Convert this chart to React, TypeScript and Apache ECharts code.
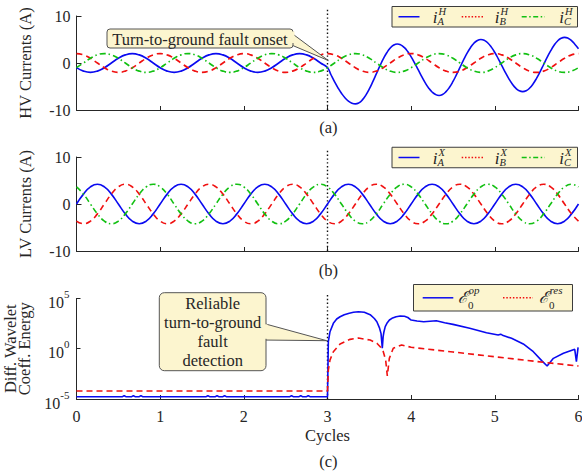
import React, { useEffect, useRef } from "react";
import * as echarts from "echarts";

// ---------------- data ----------------
const faultCycle = 3;
const xMin = 0;
const xMax = 6;

// (a) HV phase currents (A): pre-fault samples every 1/12 cycle (t = 0..3)
const hvAPre = [
  -1, -1.73, -2, -1.73, -1, 0, 1, 1.73, 2, 1.73, 1, 0,
  -1, -1.73, -2, -1.73, -1, 0, 1, 1.73, 2, 1.73, 1, 0,
  -1, -1.73, -2, -1.73, -1, 0, 1, 1.73, 2, 1.73, 1, 0,
  -1,
];
// (a) faulted phase A after onset: samples every 1/24 cycle (t = 3..6)
const hvAPost = [
  -1, -2.5, -3.95, -5.28, -6.44, -7.4, -8.11, -8.55, -8.7,
  -8.48, -7.85, -6.84, -5.52, -3.98, -2.33, -0.68, 0.86, 2.17, 3.19, 3.82, 4.04,
  3.85, 3.31, 2.44, 1.31, -0.01, -1.43, -2.85, -4.17, -5.3, -6.17, -6.71, -6.9,
  -6.7, -6.1, -5.16, -3.93, -2.49, -0.95, 0.59, 2.03, 3.26, 4.2, 4.8, 5.0,
  4.81, 4.26, 3.38, 2.23, 0.89, -0.55, -1.99, -3.33, -4.47, -5.36, -5.91, -6.1,
  -5.9, -5.33, -4.41, -3.21, -1.82, -0.32, 1.18, 2.57, 3.77, 4.69, 5.26, 5.46,
  5.27, 4.75, 3.95, 3.05,
];
// samples every 1/12 cycle (t = 0..6)
const hvB = [
  2, 1.73, 1, 0, -1, -1.73, -2, -1.73, -1, 0, 1, 1.73,
  2, 1.73, 1, 0, -1, -1.73, -2, -1.73, -1, 0, 1, 1.73,
  2, 1.73, 1, 0, -1, -1.73, -2, -1.73, -1, 0, 1, 1.73,
  2, 1.73, 1, 0, -1, -1.73, -2, -1.73, -1, 0, 1, 1.73,
  2, 1.73, 1, 0, -1, -1.73, -2, -1.73, -1, 0, 1, 1.73,
  2, 1.73, 1, 0, -1, -1.73, -2, -1.73, -1, 0, 1, 1.73,
  2,
];
const hvC = [
  -1, 0, 1, 1.73, 2, 1.73, 1, 0, -1, -1.73, -2, -1.73,
  -1, 0, 1, 1.73, 2, 1.73, 1, 0, -1, -1.73, -2, -1.73,
  -1, 0, 1, 1.73, 2, 1.73, 1, 0, -1, -1.73, -2, -1.73,
  -1, 0, 1, 1.73, 2, 1.73, 1, 0, -1, -1.73, -2, -1.73,
  -1, 0, 1, 1.73, 2, 1.73, 1, 0, -1, -1.73, -2, -1.73,
  -1, 0, 1, 1.73, 2, 1.73, 1, 0, -1, -1.73, -2, -1.73,
  -1,
];

// (b) LV phase currents (A), samples every 1/12 cycle (t = 0..6)
const lvA = [
  0, 2.1, 3.64, 4.2, 3.64, 2.1, 0, -2.1, -3.64, -4.2, -3.64, -2.1,
  0, 2.1, 3.64, 4.2, 3.64, 2.1, 0, -2.1, -3.64, -4.2, -3.64, -2.1,
  0, 2.1, 3.64, 4.2, 3.64, 2.1, 0, -2.1, -3.64, -4.2, -3.64, -2.1,
  0, 2.1, 3.64, 4.2, 3.64, 2.1, 0, -2.1, -3.64, -4.2, -3.64, -2.1,
  0, 2.1, 3.64, 4.2, 3.64, 2.1, 0, -2.1, -3.64, -4.2, -3.64, -2.1,
  0, 2.1, 3.64, 4.2, 3.64, 2.1, 0, -2.1, -3.64, -4.2, -3.64, -2.1,
  0,
];
const lvB = [
  -3.64, -4.2, -3.64, -2.1, 0, 2.1, 3.64, 4.2, 3.64, 2.1, 0, -2.1,
  -3.64, -4.2, -3.64, -2.1, 0, 2.1, 3.64, 4.2, 3.64, 2.1, 0, -2.1,
  -3.64, -4.2, -3.64, -2.1, 0, 2.1, 3.64, 4.2, 3.64, 2.1, 0, -2.1,
  -3.64, -4.2, -3.64, -2.1, 0, 2.1, 3.64, 4.2, 3.64, 2.1, 0, -2.1,
  -3.64, -4.2, -3.64, -2.1, 0, 2.1, 3.64, 4.2, 3.64, 2.1, 0, -2.1,
  -3.64, -4.2, -3.64, -2.1, 0, 2.1, 3.64, 4.2, 3.64, 2.1, 0, -2.1,
  -3.64,
];
const lvC = [
  3.64, 2.1, 0, -2.1, -3.64, -4.2, -3.64, -2.1, 0, 2.1, 3.64, 4.2,
  3.64, 2.1, 0, -2.1, -3.64, -4.2, -3.64, -2.1, 0, 2.1, 3.64, 4.2,
  3.64, 2.1, 0, -2.1, -3.64, -4.2, -3.64, -2.1, 0, 2.1, 3.64, 4.2,
  3.64, 2.1, 0, -2.1, -3.64, -4.2, -3.64, -2.1, 0, 2.1, 3.64, 4.2,
  3.64, 2.1, 0, -2.1, -3.64, -4.2, -3.64, -2.1, 0, 2.1, 3.64, 4.2,
  3.64, 2.1, 0, -2.1, -3.64, -4.2, -3.64, -2.1, 0, 2.1, 3.64, 4.2,
  3.64,
];

// (c) differential wavelet coefficient energies
const opT = [
  0, 0.55, 0.57, 0.59, 0.66, 0.68, 0.7, 0.75, 0.77, 0.79,
  1.55, 1.57, 1.59, 1.66, 1.68, 1.7, 1.75, 1.77, 1.79,
  2.55, 2.57, 2.59, 2.66, 2.68, 2.7, 2.75, 2.77, 2.79,
  3.0, 3.01, 3.03, 3.07, 3.11, 3.15, 3.2, 3.26, 3.31, 3.37, 3.44, 3.51, 3.56,
  3.59, 3.62, 3.64, 3.655, 3.665, 3.675, 3.69, 3.71, 3.74, 3.77, 3.82, 3.87,
  3.92, 3.96, 4.0, 4.07, 4.15, 4.3, 4.4, 4.5, 4.7, 4.9, 5.04, 5.07, 5.1, 5.2,
  5.34, 5.46, 5.56, 5.625, 5.7, 5.82, 5.955, 5.975, 5.995,
];
const opE = [
  1.7e-5, 1.7e-5, 2.2e-5, 1.7e-5, 1.7e-5, 2.2e-5, 1.7e-5, 1.7e-5, 2.2e-5, 1.7e-5,
  1.7e-5, 2.2e-5, 1.7e-5, 1.7e-5, 2.2e-5, 1.7e-5, 1.7e-5, 2.2e-5, 1.7e-5,
  1.7e-5, 2.2e-5, 1.7e-5, 1.7e-5, 2.2e-5, 1.7e-5, 1.7e-5, 2.2e-5, 1.7e-5,
  1.7e-5, 5, 49, 331, 891, 1510, 2400, 3390, 4170, 4790, 4170, 2400, 1000,
  479, 126, 31.6, 1.1, 15.8, 49, 158, 331, 708, 1050, 1510, 1780,
  1660, 1260, 708, 560, 479, 603, 380, 263, 107, 39, 23, 28, 20, 10.7,
  2.95, 0.5, 0.065, 0.019, 0.11, 0.35, 0.87, 0.051, 1.38,
];
const resT = [
  0, 3.0, 3.01, 3.03, 3.07, 3.15, 3.27, 3.37, 3.51, 3.59, 3.63, 3.667,
  3.695, 3.715, 3.739, 3.786, 3.886, 4.0, 4.5, 5.0, 5.62, 6.0,
];
const resE = [
  6.3e-5, 6.3e-5, 7.6e-3, 0.076, 0.5, 2.95, 8.5, 11.5, 7.2, 3.5, 1.58, 0.5,
  0.076, 1.95e-3, 0.11, 1.1, 2.34, 1.38, 0.47, 0.158, 0.041, 0.019,
];

// ---------------- styling ----------------
const FONT = "'Liberation Serif', 'DejaVu Serif', serif";
const AX = "#262626";
const BLUE = "#0a0af0";
const RED = "#f01010";
const GREEN = "#12c012";
const YEL = "#fcf5cf";
const BOX = "#3c3c3c";
const PLOT_LEFT = 76.5;
const PLOT_RIGHT = 3.5;

const DASH = [6, 4];
const DASHDOT = [6, 3, 1.5, 3];

function xAxisFor(i: number) {
  const base: any = {
    type: "value",
    gridIndex: i,
    min: xMin,
    max: xMax,
    interval: 1,
    axisLine: { show: true, onZero: false, lineStyle: { color: AX, width: 1 } },
    axisTick: { show: true, inside: true, length: 4, lineStyle: { color: AX } },
    axisLabel: { show: i === 2, fontSize: 16, fontFamily: FONT, color: AX, margin: 9 },
    splitLine: { show: false },
  };
  if (i === 2) {
    base.name = "Cycles";
    base.nameLocation = "middle";
    base.nameGap = 28;
    base.nameTextStyle = { fontSize: 16.5, fontFamily: FONT, color: AX };
  }
  return base;
}

function linYAxis(i: number, name: string) {
  return {
    type: "value",
    gridIndex: i,
    min: -10,
    max: 10,
    interval: 10,
    axisLine: { show: true, onZero: false, lineStyle: { color: AX, width: 1 } },
    axisTick: { show: true, inside: true, length: 5, lineStyle: { color: AX } },
    axisLabel: { fontSize: 16, fontFamily: FONT, color: AX, margin: 6 },
    splitLine: { show: false },
    name,
    nameLocation: "middle",
    nameGap: 43,
    nameRotate: 90,
    nameTextStyle: { fontSize: 16.5, fontFamily: FONT, color: AX },
  };
}

function vline(i: number, y0: number, y1: number) {
  return {
    type: "line",
    xAxisIndex: i,
    yAxisIndex: i,
    data: [
      [faultCycle, y0],
      [faultCycle, y1],
    ],
    showSymbol: false,
    symbol: "none",
    clip: false,
    silent: true,
    lineStyle: { color: "#111", width: 1.4, type: [1.4, 2.4] },
    z: 1,
  };
}

function wave(i: number, data: number[][], color: string, type: any) {
  return {
    type: "line",
    xAxisIndex: i,
    yAxisIndex: i,
    data,
    showSymbol: false,
    symbol: "none",
    smooth: 0.5,
    lineStyle: { color, width: 1.6, type },
    z: 3,
  };
}

function txt(x: number, y: number, text: string, size: number, extra: any = {}) {
  return {
    type: "text",
    x,
    y,
    z: 110,
    silent: true,
    style: {
      text,
      fontSize: size,
      fontFamily: FONT,
      fill: AX,
      align: "center",
      verticalAlign: "middle",
      ...extra,
    },
  };
}

function lLine(x1: number, x2: number, y: number, color: string, dash: any) {
  return {
    type: "line",
    z: 105,
    silent: true,
    shape: { x1, y1: y, x2, y2: y },
    style: { stroke: color, lineWidth: 1.5, lineDash: dash },
  };
}

function phaseLegend(cy: number, sup: string) {
  const top = cy - 10.25;
  const items: any[] = [
    {
      type: "rect",
      z: 104,
      silent: true,
      shape: { x: 392, y: top, width: 185.5, height: 20.5 },
      style: { fill: YEL, stroke: BOX, lineWidth: 1 },
    },
  ];
  const entries = [
    { l0: 398.5, l1: 419.5, ix: 435, sub: "A", color: BLUE, dash: null },
    { l0: 461.7, l1: 483.3, ix: 497, sub: "B", color: RED, dash: [1.5, 1.8] },
    { l0: 521.7, l1: 545, ix: 561.5, sub: "C", color: GREEN, dash: [5, 2.5, 1.5, 2.5] },
  ];
  entries.forEach((e) => {
    items.push(lLine(e.l0, e.l1, cy, e.color, e.dash));
    items.push(txt(e.ix, cy + 0.5, "i", 17, { fontStyle: "italic" }));
    items.push(txt(e.ix + 3.5, cy - 5.5, sup, 10.5, { fontStyle: "italic", align: "left" }));
    items.push(txt(e.ix + 2.5, cy + 4.5, e.sub, 10.5, { fontStyle: "italic", align: "left" }));
  });
  return items;
}

function energyLegend() {
  const cy = 297.8;
  const items: any[] = [
    {
      type: "rect",
      z: 104,
      silent: true,
      shape: { x: 413.5, y: 284.5, width: 159, height: 26.5 },
      style: { fill: YEL, stroke: BOX, lineWidth: 1 },
    },
  ];
  const entries = [
    { l0: 422.7, l1: 453.3, ex: 462.5, sup: "op", color: BLUE, dash: null },
    { l0: 503, l1: 533, ex: 543.5, sup: "res", color: RED, dash: [1.5, 1.8] },
  ];
  entries.forEach((e) => {
    items.push(lLine(e.l0, e.l1, cy, e.color, e.dash));
    items.push(txt(e.ex, cy, "\u2130", 16.5, { fontStyle: "italic" }));
    items.push(txt(e.ex + 6, cy - 7.5, e.sup, 11, { fontStyle: "italic", align: "left" }));
    items.push(txt(e.ex + 5.5, cy + 7, "0", 11, { align: "left" }));
  });
  return items;
}

function callout(
  box: { x: number; y: number; w: number; h: number; r: number },
  tail: number[][],
  filler: { x: number; y: number; w: number; h: number },
  text: string,
  lineHeight: number
) {
  return [
    {
      type: "polygon",
      z: 106,
      silent: true,
      shape: { points: tail },
      style: { fill: YEL, stroke: "#555", lineWidth: 1 },
    },
    {
      type: "rect",
      z: 107,
      silent: true,
      shape: { x: box.x, y: box.y, width: box.w, height: box.h, r: box.r },
      style: { fill: YEL, stroke: "#555", lineWidth: 1 },
    },
    {
      type: "rect",
      z: 108,
      silent: true,
      shape: { x: filler.x, y: filler.y, width: filler.w, height: filler.h },
      style: { fill: YEL },
    },
    txt(box.x + box.w / 2, box.y + box.h / 2 + 0.5, text, 16.5, { lineHeight }),
  ];
}

function buildOption() {
  const hvAData = hvAPre
    .map((v, i) => [i / 12, v])
    .concat(hvAPost.slice(1).map((v, i) => [faultCycle + (i + 1) / 24, v]));
  const at12 = (arr: number[]) => arr.map((v, i) => [i / 12, v]);
  const opData = opT.map((t, i) => [t, opE[i]]);
  const resData = resT.map((t, i) => [t, resE[i]]);

  const gridBase = { left: PLOT_LEFT, right: PLOT_RIGHT, containLabel: false, outerBoundsMode: "none" };
  const grids = [
    { ...gridBase, top: 16, height: 94 },
    { ...gridBase, top: 157, height: 94 },
    { ...gridBase, top: 298.4, height: 100.6 },
  ];

  const logAxis = {
    type: "log",
    logBase: 10,
    gridIndex: 2,
    min: 1e-5,
    max: 1e5,
    splitNumber: 10,
    axisLine: { show: true, onZero: false, lineStyle: { color: AX, width: 1 } },
    axisTick: { show: true, inside: true, length: 4, lineStyle: { color: AX } },
    axisLabel: {
      fontSize: 16,
      fontFamily: FONT,
      color: AX,
      margin: 7,
      formatter: (v: number) => {
        const e = Math.round(Math.log10(v));
        if (e === 5 || e === 0 || e === -5) return "{b|10}{s|" + e + "}";
        return "";
      },
      rich: {
        b: { fontSize: 16, fontFamily: FONT, color: AX, lineHeight: 16, padding: [8, 0, 0, 0] },
        s: { fontSize: 11, fontFamily: FONT, color: AX, lineHeight: 20, verticalAlign: "top" },
      },
    },
    splitLine: { show: false },
    name: "Diff. Wavelet\nCoeff. Energy",
    nameLocation: "middle",
    nameGap: 45,
    nameRotate: 90,
    nameTextStyle: { fontSize: 16.5, fontFamily: FONT, color: AX, lineHeight: 14 },
  };

  const graphicEls: any[] = [
    ...phaseLegend(16.75, "H"),
    ...phaseLegend(157.5, "X"),
    ...energyLegend(),
    ...callout(
      { x: 107, y: 29, w: 186, h: 19, r: 3 },
      [
        [288, 30.5],
        [328.3, 60.5],
        [288, 43.5],
      ],
      { x: 292, y: 31.5, w: 2.5, h: 11.5 },
      "Turn-to-ground fault onset",
      18
    ),
    ...callout(
      { x: 159.3, y: 292.7, w: 106.7, h: 78, r: 5 },
      [
        [262, 323],
        [326.7, 340.7],
        [262, 340],
      ],
      { x: 265, y: 324.3, w: 2.5, h: 14.5 },
      "Reliable\nturn-to-ground\nfault\ndetection",
      19
    ),
    txt(328.3, 127.5, "(a)", 16.5),
    txt(328.3, 270.5, "(b)", 16.5),
    txt(328.3, 461, "(c)", 16.5),
  ];

  return {
    animation: false,
    backgroundColor: "#ffffff",
    grid: grids,
    xAxis: [xAxisFor(0), xAxisFor(1), xAxisFor(2)],
    yAxis: [linYAxis(0, "HV Currents (A)"), linYAxis(1, "LV Currents (A)"), logAxis],
    series: [
      vline(0, -10, 11.8),
      wave(0, hvAData, BLUE, "solid"),
      wave(0, at12(hvB), RED, DASH),
      wave(0, at12(hvC), GREEN, DASHDOT),
      vline(1, -10, 11.8),
      wave(1, at12(lvA), BLUE, "solid"),
      wave(1, at12(lvB), RED, DASH),
      wave(1, at12(lvC), GREEN, DASHDOT),
      vline(2, 1e-5, 2.2e5),
      {
        type: "line",
        xAxisIndex: 2,
        yAxisIndex: 2,
        data: opData,
        showSymbol: false,
        symbol: "none",
        lineStyle: { color: BLUE, width: 1.6 },
        z: 3,
      },
      {
        type: "line",
        xAxisIndex: 2,
        yAxisIndex: 2,
        data: resData,
        showSymbol: false,
        symbol: "none",
        lineStyle: { color: RED, width: 1.6, type: DASH },
        z: 3,
      },
    ],
    graphic: { elements: graphicEls },
  };
}

export default function App() {
  const ref = useRef<HTMLDivElement>(null);
  useEffect(() => {
    const el = ref.current;
    if (!el) return;
    const chart = echarts.init(el, null, { renderer: "svg" });
    chart.setOption(buildOption() as any);
    return () => chart.dispose();
  }, []);
  return (
    <div
      ref={ref}
      style={{ position: "absolute", left: 0, top: 0, width: 582, height: 471, background: "#fff" }}
    />
  );
}
